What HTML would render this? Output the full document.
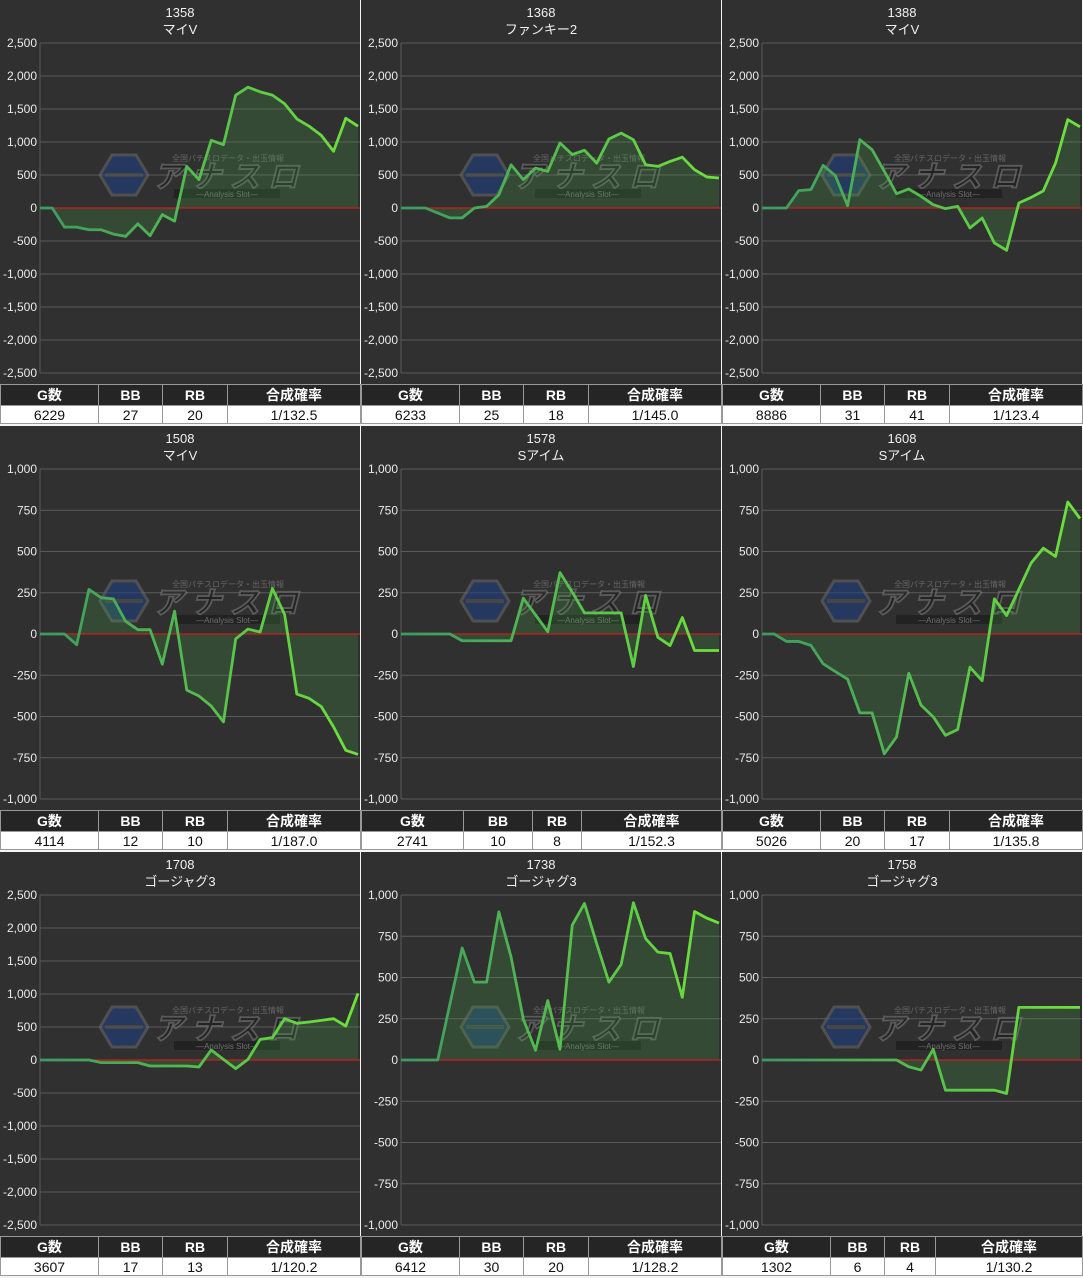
<!DOCTYPE html>
<html><head><meta charset="utf-8">
<style>
body{margin:0;width:1083px;height:1278px;background:#f4f4f4;overflow:hidden;font-family:"Liberation Sans","Noto Sans CJK JP",sans-serif;}
.panel{position:absolute;width:360px;height:424px;background:#303030;}
.panel svg{position:absolute;left:0;top:0;}
table{position:absolute;left:0;top:384px;width:360px;border-collapse:collapse;table-layout:fixed;}
td,th{border:1px solid #999;text-align:center;padding:0;font-size:14px;}
th{background:#252525;color:#fff;height:18px;font-weight:bold;}
td{background:#fff;color:#111;height:17px;}
</style></head><body>
<div id="root"></div>
<script>
const machineNumbers=["1358","1368","1388","1508","1578","1608","1708","1738","1758"];
const machineTitles=["マイV","ファンキー2","マイV","マイV","Sアイム","Sアイム","ゴージャグ3","ゴージャグ3","ゴージャグ3"];
const axisMax=[2500,2500,2500,1000,1000,1000,2500,1000,1000];
const ticks2500=["2,500","2,000","1,500","1,000","500","0","-500","-1,000","-1,500","-2,000","-2,500"];
const ticks1000=["1,000","750","500","250","0","-250","-500","-750","-1,000"];
const s1358=[0,0,-290,-290,-330,-330,-395,-430,-240,-420,-100,-200,630,430,1025,960,1710,1830,1760,1710,1580,1350,1240,1100,860,1360,1240];
const s1368=[0,0,0,-75,-150,-150,0,25,200,655,430,605,555,985,810,875,680,1045,1135,1035,655,630,705,770,580,470,455];
const s1388=[0,0,0,263,278,646,490,35,1035,884,556,217,288,177,50,-10,25,-303,-152,-530,-641,76,160,260,680,1340,1230];
const s1508=[0,0,0,-65,270,220,213,77,26,26,-183,138,-340,-376,-437,-533,-30,30,12,276,118,-364,-390,-440,-563,-705,-730];
const s1578=[0,0,0,0,0,-41,-41,-41,-41,-41,217,116,14,372,254,128,128,128,128,-197,234,-20,-70,100,-100,-100,-100];
const s1608=[0,0,-45,-45,-69,-181,-228,-274,-478,-478,-726,-624,-238,-431,-502,-614,-579,-201,-283,213,112,270,430,520,470,800,700];
const s1708=[0,0,0,0,0,-40,-40,-40,-40,-91,-91,-91,-91,-106,152,10,-131,10,313,338,626,556,576,600,626,515,1010];
const s1738=[0,0,0,0,339,679,472,472,898,624,248,59,360,65,817,949,705,472,579,953,736,654,645,380,900,860,830];
const s1758=[0,0,0,0,0,0,0,0,0,0,0,0,-41,-61,65,-183,-183,-183,-183,-183,-203,319,319,319,319,319,319];
const series=[s1358,s1368,s1388,s1508,s1578,s1608,s1708,s1738,s1758];
const gCounts=["6229","6233","8886","4114","2741","5026","3607","6412","1302"];
const bbCounts=["27","25","31","12","10","20","17","30","6"];
const rbCounts=["20","18","41","10","8","17","13","20","4"];
const combinedRates=["1/132.5","1/145.0","1/123.4","1/187.0","1/152.3","1/135.8","1/120.2","1/128.2","1/130.2"];
const colWidths=[[98,64,65,133],[98,64,65,133],[98,64,65,133],[98,64,65,133],[102,69,49,140],[98,64,65,133],[98,64,65,133],[98,64,65,133],[108,54,51,147]];

const NS="http://www.w3.org/2000/svg";
const root=document.getElementById('root');
const PX0=40,PX1=358,PY0=43,PY1=373;
function mk(tag,attrs,parent){const e=document.createElementNS(NS,tag);for(const k in attrs)e.setAttribute(k,attrs[k]);parent.appendChild(e);return e;}
for(let p=0;p<9;p++){
  const col=p%3,row=Math.floor(p/3);
  const div=document.createElement('div');
  div.className='panel';
  div.style.left=(col*361)+'px';div.style.top=(row*426)+'px';
  
  
  root.appendChild(div);
  const svg=mk('svg',{width:360,height:383},div);
  const M=axisMax[p];
  const yS=v=>PY0+(M-v)/(2*M)*(PY1-PY0);
  const data=series[p];
  const xS=i=>PX0+i*(PX1-PX0)/(data.length-1);
  const t1=mk('text',{x:180,y:17,'text-anchor':'middle',fill:'#f0f0f0','font-size':13},svg);t1.textContent=machineNumbers[p];
  
  
  const t2=mk('text',{x:180,y:34,'text-anchor':'middle',fill:'#f0f0f0','font-size':13},svg);t2.textContent=machineTitles[p];
  
  
  const ticks=M===2500?ticks2500:ticks1000;
  const step=(2*M)/(ticks.length-1);
  ticks.forEach((lab,k)=>{
    const v=M-k*step,y=yS(v);
    const g=mk('line',{x1:PX0,x2:360,y1:y,y2:y,stroke:'#5a5a5a','stroke-width':1},svg);
    
    
    const t=mk('text',{x:37,y:y+4,'text-anchor':'end',fill:'#eaeaea','font-size':12},svg);t.textContent=lab;
    
    
  });
  mk('line',{x1:PX0,x2:PX0,y1:PY0,y2:PY1,stroke:'#5a5a5a'},svg);
  const wm=mk('g',{opacity:0.6},svg);
  
  
  const wy=175;
  mk('polygon',{points:'100,'+wy+' 112,'+(wy-20)+' 136,'+(wy-20)+' 148,'+wy+' 136,'+(wy+20)+' 112,'+(wy+20),fill:'#1f3f80',stroke:'#666','stroke-width':3},wm);
  mk('rect',{x:105,y:wy-2,width:38,height:4,fill:'#555'},wm);
  const wt=mk('text',{x:153,y:wy+12,fill:'#1c1c1c',stroke:'#777','stroke-width':1.8,'font-size':30,'font-weight':'bold','font-style':'italic',textLength:145},wm);wt.textContent='アナスロ';
  const ws=mk('text',{x:172,y:wy-14,fill:'#888','font-size':8},wm);ws.textContent='全国パチスロデータ・出玉情報';
  mk('rect',{x:174,y:wy+14,width:106,height:9,fill:'#1a1a1a'},wm);
  const wa=mk('text',{x:227,y:wy+22,'text-anchor':'middle',fill:'#999','font-size':8},wm);wa.textContent='—Analysis Slot—';
  const gid='grad'+p;
  const defs=mk('defs',{},svg);
  const lg=mk('linearGradient',{id:gid,x1:0,x2:1,y1:0,y2:0},defs);
  mk('stop',{offset:'0','stop-color':'#3c9a62'},lg);
  mk('stop',{offset:'1','stop-color':'#6ee23a'},lg);
  const y0=yS(0);
  let d='M'+xS(0)+','+y0;
  data.forEach((v,i)=>{d+=' L'+xS(i)+','+yS(v);});
  d+=' L'+xS(data.length-1)+','+y0+' Z';
  const area=mk('path',{d:d,fill:'rgba(70,170,70,0.22)'},svg);
  
  
  const zl=mk('line',{x1:PX0,x2:360,y1:y0,y2:y0,stroke:'#c8201c','stroke-width':1.3},svg);
  
  
  const pts=data.map((v,i)=>xS(i)+','+yS(v)).join(' ');
  const ln=mk('polyline',{points:pts,fill:'none',stroke:'url(#'+gid+')','stroke-width':2.8,'stroke-linejoin':'round'},svg);
  
  
  const tb=document.createElement('table');
  
  
  const cg=document.createElement('colgroup');
  colWidths[p].forEach(w=>{const c=document.createElement('col');c.style.width=w+'px';cg.appendChild(c);});
  tb.appendChild(cg);
  const hr=document.createElement('tr');
  ['G数','BB','RB','合成確率'].forEach(h=>{const th=document.createElement('th');th.textContent=h;hr.appendChild(th);});
  tb.appendChild(hr);
  const dr=document.createElement('tr');
  [gCounts[p],bbCounts[p],rbCounts[p],combinedRates[p]].forEach(h=>{const td=document.createElement('td');td.textContent=h;dr.appendChild(td);});
  tb.appendChild(dr);
  div.appendChild(tb);
}
</script>
</body></html>
